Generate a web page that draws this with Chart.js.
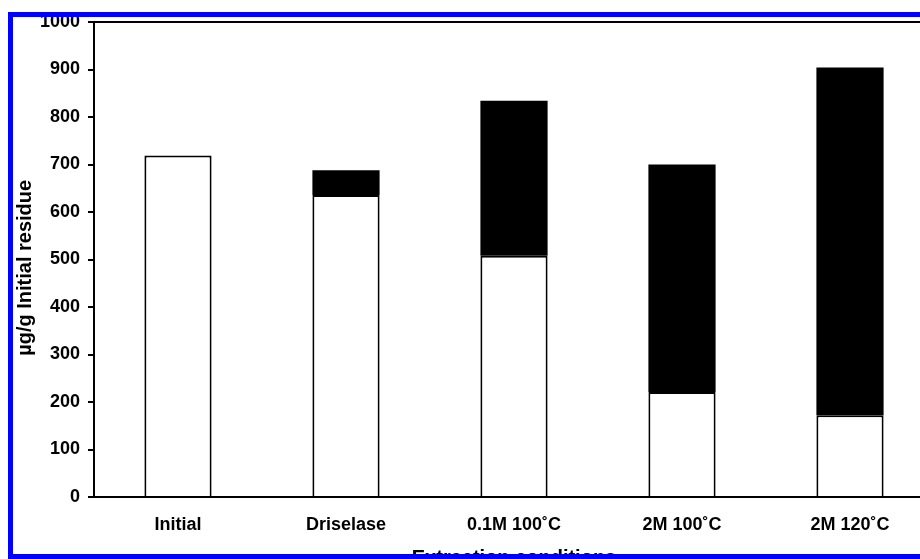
<!DOCTYPE html>
<html>
<head>
<meta charset="utf-8">
<script src="https://cdn.jsdelivr.net/npm/chart.js@4/dist/chart.umd.min.js"></script>
<style>
  html, body { margin: 0; padding: 0; background: #fff; overflow: hidden; width: 920px; height: 559px; }
  #residueChart { position: absolute; left: 0; top: 0; }
  .frame { position: absolute; background: #0000ff; }
</style>
</head>
<body>
<canvas id="residueChart" width="940" height="575"></canvas>
<!-- blue frame round the figure, right side is cropped off -->
<div class="frame" style="left:8px; top:12px; width:912px; height:5px;"></div>
<div class="frame" style="left:8px; top:12px; width:5px; height:547px;"></div>
<div class="frame" style="left:8px; top:554px; width:912px; height:5px;"></div>
<script>
//############################
//######     Data     ########
//############################

const conditions = ["Initial", "Driselase", "0.1M 100˚C", "2M 100˚C", "2M 120˚C"];
// white part: what is left in the residue
const residueLeft = [719, 636, 508, 221, 172];
// black part: what was extracted
const extracted = [0, 52, 326, 479, 732];
const yTicks = [0, 100, 200, 300, 400, 500, 600, 700, 800, 900, 1000];

//############################
//######  Bar chart   ########
//############################

const font = "'Liberation Sans', Arial, sans-serif";

const dataResidue = {
  labels: conditions,
  datasets: [
    {
      label: "Residue",
      data: residueLeft,
      backgroundColor: "#ffffff",
      borderColor: "#000000",
      borderWidth: 2,
      barPercentage: 0.4,
      categoryPercentage: 1
    },
    {
      label: "Extracted",
      data: extracted,
      backgroundColor: "#000000",
      borderColor: "#000000",
      borderWidth: 0,
      barPercentage: 0.4,
      categoryPercentage: 1
    }
  ]
};

const configResidue = {
  type: "bar",
  data: dataResidue,
  options: {
    responsive: false,
    animation: false,
    layout: { padding: { top: 22, left: 0, right: 6, bottom: 5 } },
    plugins: { legend: { display: false }, tooltip: { enabled: false } },
    scales: {
      x: {
        stacked: true,
        grid: { display: false, drawTicks: false },
        border: { display: true, color: "#000000", width: 2 },
        ticks: { color: "#000000", padding: 17, font: { family: font, size: 18, weight: "bold" } },
        title: {
          display: true,
          text: "Extraction conditions",
          color: "#000000",
          padding: 0,
          font: { family: font, size: 20, weight: "bold" }
        },
        afterFit: function (scale) { scale.height = 73; }
      },
      y: {
        stacked: true,
        min: 0,
        max: 1000,
        afterBuildTicks: function (scale) {
          scale.ticks = yTicks.map(function (v) { return { value: v }; });
        },
        grid: {
          drawOnChartArea: true,
          lineWidth: 2,
          tickLength: 6,
          tickColor: "#000000",
          // only the top line of the box shows inside the plot
          color: function (ctx) { return ctx.tick && ctx.tick.value === 1000 ? "#000000" : "rgba(0,0,0,0)"; }
        },
        border: { display: true, color: "#000000", width: 2 },
        ticks: {
          color: "#000000",
          padding: 8,
          font: { family: font, size: 18, weight: "bold" },
          callback: function (value) { return String(value); }
        },
        title: {
          display: true,
          text: "µg/g Initial residue   ",
          color: "#000000",
          padding: { top: 13, bottom: 0 },
          font: { family: font, size: 20, weight: "bold" }
        },
        afterFit: function (scale) { scale.width = 94; }
      }
    }
  }
};

const myResidueChart = new Chart(document.getElementById("residueChart"), configResidue);
</script>
</body>
</html>
